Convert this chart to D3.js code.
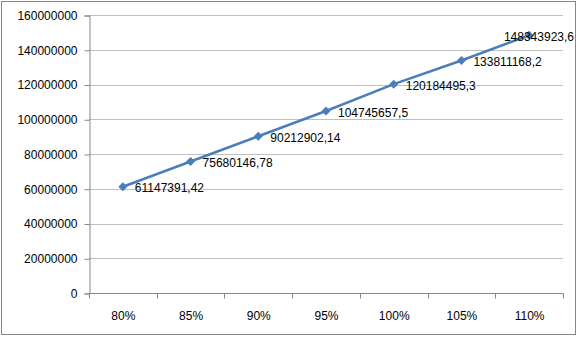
<!DOCTYPE html>
<html>
<head>
<meta charset="utf-8">
<script src="https://cdn.jsdelivr.net/npm/d3@7"></script>
<style>
  body { margin: 0; background: #fff; }
  svg text { font-family: "Liberation Sans", Arial, sans-serif; font-size: 12px; fill: #000; }
</style>
</head>
<body>
<svg id="chart" width="578" height="337"></svg>
<script>
// chart data
const categories = ['80%', '85%', '90%', '95%', '100%', '105%', '110%'];
const values = [61147391.42, 75680146.78, 90212902.14, 104745657.5, 120184495.3, 133811168.2, 148343923.6];
const valueLabels = ['61147391,42', '75680146,78', '90212902,14', '104745657,5', '120184495,3', '133811168,2', '148343923,6'];
const yTicks = [0, 20000000, 40000000, 60000000, 80000000, 100000000, 120000000, 140000000, 160000000];

const svg = d3.select('#chart');
const W = 578, H = 337;
const margin = {top: 15, right: 15, bottom: 44, left: 89};

// outer frame
svg.append('rect')
  .attr('x', 1.5).attr('y', 1.5)
  .attr('width', W - 4).attr('height', H - 4)
  .attr('fill', '#fff').attr('stroke', '#868686').attr('stroke-width', 1);

const x = d3.scaleBand().domain(categories).range([margin.left, W - margin.right]);
const y = d3.scaleLinear().domain([0, 160000000]).range([H - margin.bottom, margin.top]);

// gridlines
svg.append('g').selectAll('line').data(yTicks.filter(d => d > 0)).join('line')
  .attr('x1', margin.left).attr('x2', W - margin.right)
  .attr('y1', d => Math.round(y(d)) + 0.5).attr('y2', d => Math.round(y(d)) + 0.5)
  .attr('stroke', '#bfbfbf');

// y axis
const yAxis = svg.append('g')
  .attr('transform', `translate(${margin.left + 0.5},0.5)`)
  .call(d3.axisLeft(y).tickValues(yTicks).tickFormat(d3.format('d')).tickSize(5).tickPadding(7));
yAxis.select('.domain').attr('stroke', '#868686');
yAxis.selectAll('.tick line').attr('stroke', '#868686');
yAxis.selectAll('text').attr('fill', '#000').style('font-size', '12px')
  .style('font-family', '"Liberation Sans", Arial, sans-serif');

// x axis
const xAxis = svg.append('g').attr('transform', `translate(0.5,${H - margin.bottom + 0.5})`);
xAxis.append('line')
  .attr('x1', margin.left).attr('x2', W - margin.right)
  .attr('stroke', '#868686');
const bounds = categories.map(c => x(c)).concat([x(categories[categories.length - 1]) + x.bandwidth()]);
xAxis.selectAll('line.tk').data(bounds).join('line').attr('class', 'tk')
  .attr('x1', d => Math.round(d)).attr('x2', d => Math.round(d))
  .attr('y1', 0).attr('y2', 5).attr('stroke', '#868686');
xAxis.selectAll('text').data(categories).join('text')
  .attr('x', d => x(d) + x.bandwidth() / 2)
  .attr('y', 26)
  .attr('text-anchor', 'middle')
  .text(d => d);

// line
const pts = categories.map((c, i) => ({c, v: values[i], label: valueLabels[i]}));
const line = d3.line().x(d => x(d.c) + x.bandwidth() / 2).y(d => y(d.v));
svg.append('path').datum(pts)
  .attr('d', line)
  .attr('fill', 'none')
  .attr('stroke', '#4a7ebb')
  .attr('stroke-width', 2.5);

// markers
svg.append('g').selectAll('path').data(pts).join('path')
  .attr('transform', d => `translate(${x(d.c) + x.bandwidth() / 2},${y(d.v)})`)
  .attr('d', 'M0,-4.5L4.5,0L0,4.5L-4.5,0Z')
  .attr('fill', '#4a7ebb');

// data labels
svg.append('g').selectAll('text').data(pts).join('text')
  .attr('y', d => y(d.v) + 5.5)
  .text(d => d.label)
  .attr('x', function(d) {
    const px = x(d.c) + x.bandwidth() / 2 + 12;
    const w = this.getComputedTextLength();
    return Math.min(px, W - 4 - w);
  });
</script>
</body>
</html>
